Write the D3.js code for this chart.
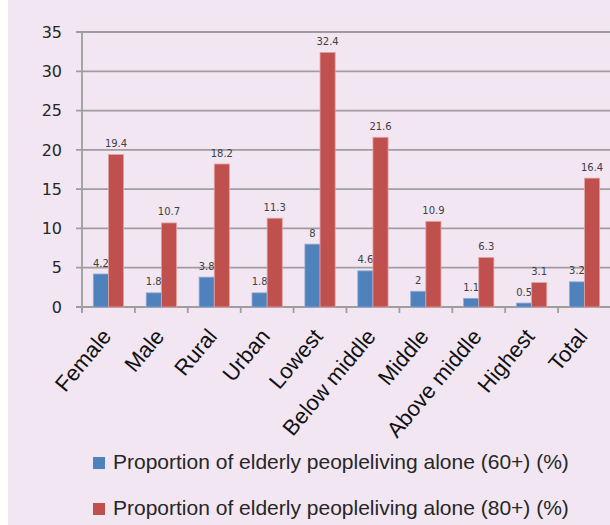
<!DOCTYPE html>
<html>
<head>
<meta charset="utf-8">
<script src="https://cdn.jsdelivr.net/npm/d3@7"></script>
<style>
  html, body { margin: 0; padding: 0; background: #fff; }
  #chart { width: 610px; height: 525px; }
</style>
</head>
<body>
<div id="chart"></div>
<script>
// categories and series values
const categories = ["Female", "Male", "Rural", "Urban", "Lowest", "Below middle",
  "Middle", "Above middle", "Highest", "Total"];
const alone60 = [4.2, 1.8, 3.8, 1.8, 8, 4.6, 2, 1.1, 0.5, 3.2];
const alone80 = [19.4, 10.7, 18.2, 11.3, 32.4, 21.6, 10.9, 6.3, 3.1, 16.4];
const seriesNames = [
  "Proportion of elderly peopleliving alone (60+) (%)",
  "Proportion of elderly peopleliving alone (80+) (%)"
];
const yTicks = [0, 5, 10, 15, 20, 25, 30, 35];

const colors = ["#4F81BD", "#C0504D"];
const strokes = ["#8EAAD6", "#E0A3A1"];

const width = 610, height = 525;
const margin = { top: 32, right: -1, bottom: 218, left: 82 };
const plotW = width - margin.left - margin.right;
const plotH = height - margin.top - margin.bottom;

const svg = d3.select("#chart")
  .append("svg")
  .attr("width", width)
  .attr("height", height);

// background panel (white strip on the left edge)
svg.append("rect")
  .attr("x", 8).attr("y", 0)
  .attr("width", width - 8).attr("height", height)
  .attr("fill", "#F2E6F3");

const g = svg.append("g")
  .attr("transform", `translate(${margin.left},${margin.top})`);

const x = d3.scaleBand().domain(categories).range([0, plotW]).padding(0);
const bw = x.bandwidth();
const x1 = d3.scaleBand().domain([0, 1])
  .range([bw * 0.214, bw * 0.786]).padding(0);
const y = d3.scaleLinear().domain([0, 35]).range([plotH, 0]);

// gridlines
g.append("g")
  .selectAll("line")
  .data(yTicks)
  .join("line")
  .attr("x1", -6).attr("x2", plotW + 2)
  .attr("y1", d => y(d)).attr("y2", d => y(d))
  .attr("stroke", "#9E9E9E")
  .attr("stroke-width", 1.8);

// y axis labels
g.append("g")
  .selectAll("text")
  .data(yTicks)
  .join("text")
  .attr("x", -20)
  .attr("y", d => y(d))
  .attr("dy", "0.36em")
  .attr("text-anchor", "end")
  .style("font-family", "DejaVu Sans")
  .style("font-size", "16px")
  .attr("fill", "#262626")
  .text(d => d);

// y axis line
g.append("line")
  .attr("x1", 0).attr("x2", 0)
  .attr("y1", 0).attr("y2", plotH + 6)
  .attr("stroke", "#9E9E9E")
  .attr("stroke-width", 1.8);

// x axis ticks
g.append("g")
  .selectAll("line")
  .data(categories)
  .join("line")
  .attr("x1", d => x(d)).attr("x2", d => x(d))
  .attr("y1", plotH).attr("y2", plotH + 6)
  .attr("stroke", "#9E9E9E")
  .attr("stroke-width", 1.8);

// bars
const series = [alone60, alone80];
series.forEach((vals, s) => {
  const bars = g.append("g");
  bars.selectAll("rect")
    .data(vals)
    .join("rect")
    .attr("x", (d, i) => x(categories[i]) + x1(s))
    .attr("y", d => y(d))
    .attr("width", x1.bandwidth())
    .attr("height", d => plotH - y(d))
    .attr("fill", colors[s])
    .attr("stroke", strokes[s])
    .attr("stroke-width", 0.8);

  bars.selectAll("text")
    .data(vals)
    .join("text")
    .attr("x", (d, i) => x(categories[i]) + x1(s) + x1.bandwidth() / 2)
    .attr("y", d => y(d) - 7.5)
    .attr("text-anchor", "middle")
    .style("font-family", "DejaVu Sans")
    .style("font-size", "10px")
    .attr("fill", "#404040")
    .text(d => d);
});

// category labels, rotated
g.append("g")
  .selectAll("text")
  .data(categories)
  .join("text")
  .attr("transform", d => `translate(${x(d) + bw / 2 + 4},${plotH + 30}) rotate(-50)`)
  .attr("text-anchor", "end")
  .style("font-family", "Liberation Sans, Arial, sans-serif")
  .style("font-size", "22px")
  .attr("fill", "#111")
  .text(d => d);

// legend
const legend = svg.append("g");
seriesNames.forEach((name, s) => {
  const ly = 469 + s * 46;
  legend.append("rect")
    .attr("x", 93).attr("y", ly - 12)
    .attr("width", 12).attr("height", 12)
    .attr("fill", colors[s]);
  legend.append("text")
    .attr("x", 113).attr("y", ly)
    .style("font-family", "Liberation Sans, Arial, sans-serif")
    .style("font-size", "21px")
    .attr("fill", "#262626")
    .text(name);
});
</script>
</body>
</html>
